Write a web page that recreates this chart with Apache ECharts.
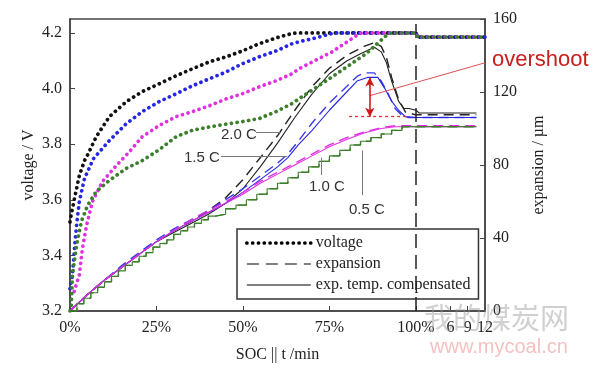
<!DOCTYPE html>
<html><head><meta charset="utf-8">
<script src="https://cdn.jsdelivr.net/npm/echarts@6/dist/echarts.min.js"></script>
<style>html,body{margin:0;padding:0;background:#fff}#c{width:600px;height:368px}</style>
</head><body><div id="c"></div>
<script>
// ---- tick labels ----
var xTicks = [0, 25, 50, 75, 100, 110, 115, 120];           // SOC % then time (min) after 100
var voltTicks = [3.2, 3.4, 3.6, 3.8, 4.0, 4.2];
var expTicks = [0, 40, 80, 120, 160];
var rateLabels = ['2.0 C', '1.5 C', '1.0 C', '0.5 C'];

// ---- voltage (V) vs SOC% (x>100 = rest time) ----
var volt20 = [[0,3.52],[0.4,3.55],[1.3,3.605],[2.7,3.687],[4.2,3.741],[5,3.759],[7.6,3.827],[11.4,3.899],[16.3,3.953],[20.9,3.989],[25.8,4.017],[30.7,4.046],[35.4,4.071],[40.3,4.096],[45.2,4.114],[49.8,4.135],[54.7,4.161],[59.6,4.182],[64.2,4.198],[66,4.2],[100,4.2],[100.6,4.185],[120,4.185]];
var volt15 = [[0,3.28],[0.7,3.329],[1.3,3.426],[1.9,3.508],[2.7,3.594],[4.2,3.677],[6.8,3.748],[11.4,3.813],[16.3,3.874],[20.9,3.917],[25.8,3.953],[30.7,3.981],[35.4,4.010],[40.3,4.035],[45.2,4.060],[49.8,4.089],[54.7,4.114],[59.6,4.135],[64.2,4.161],[66.2,4.168],[71.1,4.182],[75.8,4.198],[77,4.2],[100,4.2],[100.6,4.185],[120,4.185]];
var volt10 = [[1.2,3.27],[2.7,3.33],[3.6,3.426],[4.8,3.508],[6.5,3.594],[9.4,3.666],[13.4,3.723],[17.2,3.773],[20.9,3.827],[25.8,3.867],[30.7,3.899],[35.4,3.917],[40.3,3.938],[45.2,3.963],[49.8,3.981],[54.7,4.006],[59.6,4.028],[64.2,4.053],[66.2,4.071],[75.8,4.132],[83.5,4.196],[84.5,4.2],[100,4.2],[100.6,4.185],[120,4.185]];
var volt05 = [[0,3.2],[0.4,3.222],[0.7,3.329],[1.9,3.437],[3.3,3.523],[5.1,3.580],[7.6,3.630],[11.4,3.670],[16.3,3.713],[20.9,3.741],[25.8,3.78],[30.7,3.827],[35.4,3.85],[40.3,3.862],[45.2,3.872],[49.8,3.881],[54.7,3.892],[59.6,3.917],[64.2,3.946],[66.2,3.963],[75.8,4.042],[85.6,4.125],[91.3,4.189],[92.8,4.2],[100,4.2],[100.6,4.185],[120,4.185]];

// ---- expansion (um) ----
var exp20 = [[0,0],[5,9],[10,17],[15,24],[20,31],[25,38],[30,44],[35,49],[40,55],[45,62],[50,72],[55,84],[60,96],[65,110],[70,123],[75,133],[80,140],[85,145],[88,147],[90,145],[91.5,139],[93,128],[95,116],[97,109],[100,107.5],[117.5,107.5]];
var comp20 = [[0,0],[5,9],[10,17],[15,24],[20,31],[25,38],[30,43],[35,48],[40,53],[45,59],[50,67],[55,79],[60,92],[65,106],[70,119],[75,130],[80,137],[84,141],[88,144.5],[90,142],[91.5,136],[93,126],[95,115],[96.5,111],[98,111],[100,110],[101,108.5],[117.5,108.5]];
var exp15 = [[0,0],[5,9],[10,17],[15,25],[20,32],[25,39],[30,45],[35,50],[40,55],[45,61],[50,67],[55,74],[60,81],[63,86],[66,93],[70,103],[75,114],[80,123],[83,128.5],[85,130.5],[88,130.5],[90,126],[92,119],[94,111],[96,107],[98,106],[100,106],[117.5,106]];
var comp15 = [[0,0],[5,9],[10,17],[15,24],[20,31],[25,38],[30,44],[35,49],[40,54],[45,59],[50,65],[55,72],[60,79],[63,84],[66,91],[70,99],[75,110],[80,120],[83,126],[86,128],[89,128],[91,122],[93,115],[95,110],[97,106.5],[100,106],[117.5,106]];
var exp10 = [[0,0],[5,9],[10,17],[15,24],[20,31],[25,38],[30,44],[35,50],[40,55],[45,60],[50,65],[55,71],[60,76],[65,81],[70,86],[75,91],[80,95],[85,98],[90,100.5],[94,101.5],[100,101.5],[117.5,101.5]];
var comp10 = [[0,0],[5,9],[10,17],[15,24],[20,31],[25,38],[30,44],[35,49],[40,54],[45,59],[50,64],[55,70],[60,75],[65,80],[70,85],[75,90],[80,94],[85,97.5],[90,100],[94,101],[100,101],[117.5,101]];
var exp05 = [[0,0],[2,4],[4,7],[6,10],[8,13],[10,16],[12,19],[14,22],[16,25],[18,27],[20,30],[22,32],[24,35],[26,37],[28,39],[30,42],[32,44],[34,46],[36,48],[38,50],[40,52],[42,53],[45,56],[48,58],[51,61],[54,64],[57,67],[60,70],[63,73],[66,76],[69,79],[72,82],[75,85],[78,88],[81,91],[84,93],[87,95],[90,97],[93,99],[96,101],[100,101],[117.5,101]];
var comp05 = [[0,0],[2,4],[4,7],[6,10],[8,13],[10,16],[12,19],[14,22],[16,25],[18,27],[20,30],[22,32],[24,35],[26,37],[28,39],[30,42],[32,44],[34,46],[36,48],[38,50],[40,52],[42,53],[45,56],[48,58],[51,61],[54,64],[57,67],[60,70],[63,73],[66,76],[69,79],[72,82],[75,85],[78,88],[81,91],[84,93],[87,95],[90,97],[93,99],[96,101],[100,101],[117.5,101]];

// ---- annotation anchor values (data coords) ----
var overshootPeak = 128, overshootEnd = 106.5, overshootX = 86.7;

var chart = echarts.init(document.getElementById('c'), null, {renderer: 'canvas'});
var SERIF = '"Liberation Serif", "Times New Roman", serif';
var SANS = '"Liberation Sans", Arial, sans-serif';
var C = {black:'#111', blue:'#2626e6', mag:'#e030e0', green:'#3c7f2a'};
var DOT = {width: 3.7, type: [0.1, 5.7], cap: 'round'};

function dotted(name, data, color) {
  return {name: name, type: 'line', yAxisIndex: 0, data: data, symbol: 'none', z: 5,
    lineStyle: {color: color, width: DOT.width, type: DOT.type, cap: DOT.cap}, silent: true, legendHoverLink:false};
}
function expLine(name, data, color, dashed, step) {
  return {name: name, type: 'line', yAxisIndex: 1, data: data, symbol: 'none', z: 3, step: step || false,
    lineStyle: {color: color, width: dashed ? 1.4 : 1.1, type: dashed ? [10, 6] : 'solid'}, silent: true};
}
function legendSeries(name, ls) {
  return {name: name, type: 'line', data: [], symbol: 'none', lineStyle: ls,
    itemStyle: {color: 'rgba(0,0,0,0)', borderWidth: 0}};
}
var lsVolt = {color: '#000', width: DOT.width, type: DOT.type, cap: DOT.cap};
var lsExp = {color: '#555', width: 1.3, type: [12, 7]};
var lsComp = {color: '#000', width: 1.2, type: 'solid'};

var series = [
  dotted('v20', volt20, C.black), dotted('v15', volt15, C.blue), dotted('v10', volt10, C.mag), dotted('v05', volt05, C.green),
  expLine('e20', exp20, '#222', true), expLine('c20', comp20, '#222', false),
  expLine('e15', exp15, '#3a3aee', true), expLine('c15', comp15, C.blue, false),
  expLine('e10', exp10, C.mag, true), expLine('c10', comp10, C.mag, false),
  expLine('e05', exp05, C.green, true, 'end'), expLine('c05', comp05, C.green, false, 'end'),
  legendSeries('voltage', lsVolt),
  legendSeries('expansion', lsExp),
  legendSeries('exp. temp. compensated', lsComp),
  // annotations
  {type: 'line', yAxisIndex: 1, data: [], silent: true, z: 6,
    markLine: {silent: true, symbol: 'none', label: {show: false}, animation: false,
      data: [
        [{xAxis: 100, yAxis: 0, lineStyle: {color: '#222', width: 1.5, type: [14, 7]}}, {xAxis: 100, yAxis: 160}],
        [{coord: [53.8, 98], lineStyle: {color: '#777', width: 1, type: 'solid'}}, {coord: [61, 98]}],
        [{coord: [43.7, 85], lineStyle: {color: '#777', width: 1, type: 'solid'}}, {coord: [62.8, 85]}],
        [{coord: [72.6, 74.5], lineStyle: {color: '#777', width: 1, type: 'solid'}}, {coord: [72.6, 84]}],
        [{coord: [84.4, 63.5], lineStyle: {color: '#777', width: 1, type: 'solid'}}, {coord: [84.4, 88]}],
        [{coord: [80.7, overshootEnd], lineStyle: {color: '#d83030', width: 1.3, type: [3, 3]}}, {coord: [98, overshootEnd]}],
        [{coord: [overshootX, 118], lineStyle: {color: '#e05050', width: 1, type: 'solid'}}, {coord: [120, 136]}]
      ]}},
  {type: 'line', yAxisIndex: 1, data: [], silent: true, z: 7,
    markLine: {silent: true, symbol: ['arrow', 'arrow'], symbolSize: [7, 9], label: {show: false}, animation: false,
      data: [[{coord: [overshootX, overshootPeak], lineStyle: {color: '#d01818', width: 1.6, type: 'solid'}}, {coord: [overshootX, overshootEnd]}]]}}
];

var option = {
  animation: false,
  backgroundColor: '#fff',
  grid: {left: 70, right: 115, top: 19, bottom: 55, show: true, borderColor: '#444', borderWidth: 1.5, backgroundColor: 'transparent'},
  xAxis: {
    type: 'value', min: 0, max: 120,
    name: 'SOC || t /min', nameLocation: 'middle', nameGap: 36, nameMoveOverlap: false,
    nameTextStyle: {fontFamily: SERIF, fontSize: 16, color: '#222'},
    axisLine: {show: true, lineStyle: {color: '#444', width: 1.5}},
    axisTick: {show: true, inside: true, length: 5, customValues: xTicks, lineStyle: {color: '#444'}},
    axisLabel: {customValues: xTicks, fontFamily: SERIF, fontSize: 16, color: '#222', margin: 9,
      formatter: function (v) { return v <= 100 ? v + '%' : String(Math.round((v - 100) * 0.6)); }},
    splitLine: {show: false}
  },
  yAxis: [{
    type: 'value', min: 3.2, max: 4.25, position: 'left',
    name: 'voltage / V', nameLocation: 'middle', nameGap: 33, nameRotate: 90, nameMoveOverlap: false,
    nameTextStyle: {fontFamily: SERIF, fontSize: 16, color: '#222'},
    axisLine: {show: true, lineStyle: {color: '#444', width: 1.5}},
    axisTick: {show: true, inside: true, length: 5, customValues: voltTicks, lineStyle: {color: '#444'}},
    axisLabel: {customValues: voltTicks, fontFamily: SERIF, fontSize: 16, color: '#222', margin: 8,
      formatter: function (v) { return v.toFixed(1); }},
    splitLine: {show: false}
  }, {
    type: 'value', min: 0, max: 160, position: 'right',
    name: 'expansion / \u00b5m', nameLocation: 'middle', nameGap: 46, nameRotate: 90, nameMoveOverlap: false,
    nameTextStyle: {fontFamily: SERIF, fontSize: 16, color: '#222'},
    axisLine: {show: true, lineStyle: {color: '#444', width: 1.5}},
    axisTick: {show: true, inside: true, length: 5, customValues: expTicks, lineStyle: {color: '#444'}},
    axisLabel: {customValues: expTicks, fontFamily: SERIF, fontSize: 16, color: '#222', margin: 8},
    splitLine: {show: false}
  }],
  legend: {
    data: [{name: 'voltage', lineStyle: lsVolt}, {name: 'expansion', lineStyle: lsExp}, {name: 'exp. temp. compensated', lineStyle: lsComp}],
    orient: 'vertical', left: 237, top: 229,
    backgroundColor: '#fff', borderColor: '#333', borderWidth: 1.5, borderRadius: 0,
    padding: [6, 8, 6, 8], itemGap: 5, itemWidth: 64, itemHeight: 14,
    textStyle: {fontFamily: SERIF, fontSize: 16, color: '#222'},
    selectedMode: false
  },
  graphic: [
    {type: 'text', left: 221, top: 127, style: {text: rateLabels[0], font: '15px ' + SANS, fill: '#333'}},
    {type: 'text', left: 184, top: 150, style: {text: rateLabels[1], font: '15px ' + SANS, fill: '#333'}},
    {type: 'text', left: 309, top: 179, style: {text: rateLabels[2], font: '15px ' + SANS, fill: '#333'}},
    {type: 'text', left: 349, top: 202, style: {text: rateLabels[3], font: '15px ' + SANS, fill: '#333'}},
    {type: 'text', left: 492, top: 49, style: {text: 'overshoot', font: '22px ' + SANS, fill: '#c81e1e'}},
    {type: 'text', left: 424, top: 303, z: 100, style: {text: '我的煤炭网', font: '29px "Noto Sans CJK SC"', fill: 'rgba(150,150,150,0.45)'}},
    {type: 'text', left: 430, top: 337, z: 100, style: {text: 'www.mycoal.cn', font: '20px ' + SANS, fill: 'rgba(235,140,140,0.55)'}}
  ],
  series: series
};
chart.setOption(option);
</script></body></html>
